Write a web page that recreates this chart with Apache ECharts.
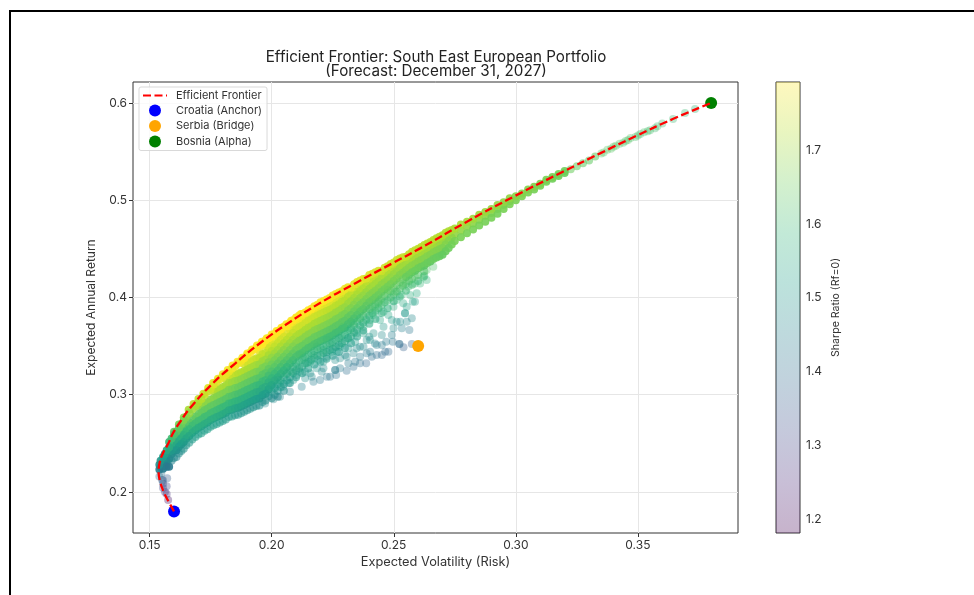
<!DOCTYPE html>
<html><head><meta charset="utf-8">
<style>
html,body{margin:0;padding:0;background:#fff;overflow:hidden}
#chart{position:absolute;left:0;top:0;width:974px;height:595px;filter:blur(0.45px)}
#frame{position:absolute;left:9px;top:10px;width:965px;height:585px;border-left:2px solid #000;border-top:2px solid #000;box-sizing:border-box;pointer-events:none}
</style>
<script src="https://cdn.jsdelivr.net/npm/echarts@6/dist/echarts.min.js"></script>
</head><body><div id="chart"></div><div id="frame"></div>
<script>
const titleText = 'Efficient Frontier: South East European Portfolio\n(Forecast: December 31, 2027)';
const xTicks = [0.15,0.20,0.25,0.30,0.35];
const yTicks = [0.2,0.3,0.4,0.5,0.6];
const colorTicks = [1.2,1.3,1.4,1.5,1.6,1.7];
const viridis = ['#440154','#482878','#3e4a89','#31688e','#26828e','#1f9e89','#35b779','#6ece58','#b5de2b','#fde725'];
const frontierVol = [.160,.1578,.1558,.1544,.1537,.1541,.1555,.1577,.1596,.1625,.1666,.176,.185,.1953,.207,.2198,.2345,.2497,.2608,.28,.2997,.3193,.3345,.3496,.3643,.38];
const frontierRet = [.180,.190,.200,.210,.220,.230,.240,.250,.2606,.272,.2864,.312,.332,.3532,.374,.3943,.415,.4355,.4505,.478,.5045,.5293,.5482,.5665,.5835,.600];
const croatia = [0.16,0.18], serbia = [0.26,0.35], bosnia = [0.38,0.60];
const ridgeVols = [.158,.16,.162,.164,.166,.168,.17,.172,.174,.176,.178,.18,.182,.184,.186,.188,.19,.192,.194,.196,.198,.20,.202,.204,.206,.208,.21,.212];
const ridgeRets = [.2515,.262,.2695,.2765,.2845,.2905,.2955,.301,.307,.312,.3165,.321,.3255,.33,.334,.338,.3425,.3465,.3505,.3545,.358,.362,.3655,.369,.3725,.376,.3795,.383];
const coreVols = [.154,.1545,.1555,.1562,.157,.158,.159,.161,.163,.165,.1675,.17,.1725,.175,.1775,.18,.1825,.185,.1875,.19,.1925,.195,.1975,.20,.2025,.205,.2075,.21,.2125,.215,.2175,.22,.2225,.225,.2275,.23,.2325,.235,.2375,.24,.2425,.245,.2475,.25,.2525,.255,.2575,.26,.2625,.265,.2675,.27,.2725,.275,.2775,.28,.2825,.285,.2875,.29,.2925,.295,.2975,.30,.3025,.305,.3075,.31,.3125,.315,.3175,.32,
.16,.162,.164,.16625,.16875,.17125,.17375,.17625,.17875,.18125,.18375,.18625,.18875,.19125,.19375,.19625,.19875,.20125,.20375,.20625,.20875,.21125,.21375,.21625,.21875,.22125,.22375,.22625,.22875,.23125,.23375,.23625,.23875,.24125,.24375,.24625,.24875,.25125,.25375,.25625,.25875,.26125,.26375,.26625,.26875,.27125,.27375];
const coreReturns = [
[.223,.228],[.226,.232],[.224,.230,.236],[.227,.233,.239],[.226,.232,.238,.243],[.226,.234,.24,.246],[.232,.239,.246,.253,.255],
[.236,.243,.250,.257,.262],[.242,.249,.256,.263,.27],[.248,.255,.262,.269,.277],[.254,.261,.268,.275,.285],
[.259,.266,.273,.280,.287,.292],[.263,.27,.277,.284,.291,.3],[.267,.274,.281,.288,.295,.306],[.27,.277,.284,.291,.298,.305,.313],
[.273,.28,.287,.294,.301,.308,.319],[.277,.284,.291,.298,.305,.312,.319,.324],[.279,.286,.293,.3,.307,.314,.321,.329],[.281,.288,.295,.302,.309,.316,.323,.335],
[.284,.291,.298,.305,.312,.319,.326,.333,.341],[.287,.294,.301,.308,.315,.322,.329,.336,.346],[.289,.296,.303,.31,.317,.324,.331,.338,.345,.351],[.294,.301,.308,.315,.322,.329,.336,.343,.35,.356],
[.303,.31,.317,.324,.331,.338,.345,.352,.36],[.311,.318,.325,.332,.339,.346,.353,.36,.365],[.318,.325,.332,.339,.346,.353,.36,.37],[.325,.332,.339,.346,.353,.36,.367,.374],
[.332,.339,.346,.353,.36,.367,.374,.379],[.336,.343,.35,.357,.364,.371,.378,.383],[.341,.348,.355,.362,.369,.376,.383,.387],[.345,.352,.359,.366,.373,.38,.387,.391],
[.348,.355,.362,.369,.376,.383,.39,.395],[.351,.358,.365,.372,.379,.386,.393,.398],[.354,.361,.368,.375,.382,.389,.396,.402],[.358,.365,.372,.379,.386,.393,.4,.405],
[.362,.369,.376,.383,.39,.397,.404,.409],[.368,.375,.382,.389,.396,.403,.41],[.375,.382,.389,.396,.403,.41,.416],[.381,.388,.395,.402,.409,.416,.419],
[.388,.395,.402,.409,.416,.423],[.393,.4,.407,.414,.421,.426],[.399,.406,.413,.42,.427],[.404,.411,.418,.425,.432],
[.41,.417,.424,.431,.436],[.416,.423,.43,.437,.44],[.421,.428,.435,.442],[.426,.433,.44,.447],
[.43,.437,.444,.45],[.433,.44,.447,.454],[.437,.444,.451,.457],[.441,.448,.455,.461],
[.444,.451,.458,.464],[.451,.458,.465,.468],[.458,.465,.471],[.462,.469,.475],
[.466,.473,.478],[.47,.476,.481],[.474,.48,.485],[.478,.484,.488],
[.482,.487,.491],[.486,.491,.495],[.491,.495,.498],[.496,.499,.502],
[.5,.504],[.504,.507],[.508,.511],[.511,.514],[.515,.517],[.519,.521],[.522,.524],[.525,.527],[.528,.53],
[.235,.2425,.2495,.2565,.259],[.2395,.2465,.2535,.2605,.266],[.2445,.2515,.2585,.2655,.274],[.2505,.2575,.2645,.2715,.281],
[.2565,.2635,.2705,.2775,.289],[.2605,.2675,.2745,.2815,.2885,.2955],[.2645,.2715,.2785,.2855,.2925,.303],[.2685,.2755,.2825,.2895,.2965,.3035,.3105],
[.2715,.2785,.2855,.2925,.2995,.3065,.316],[.2745,.2815,.2885,.2955,.3025,.3095,.3165,.321],[.2775,.2845,.2915,.2985,.3055,.3125,.3195,.327],[.2795,.2865,.2935,.3005,.3075,.3145,.3215,.332],
[.2825,.2895,.2965,.3035,.3105,.3175,.3245,.3315,.3375],[.2855,.2925,.2995,.3065,.3135,.3205,.3275,.3345,.3435],[.2885,.2955,.3025,.3095,.3165,.3235,.3305,.3375,.3485],[.2925,.2995,.3065,.3135,.3205,.3275,.3345,.3415,.3525],
[.2985,.3055,.3125,.3195,.3265,.3335,.3405,.3475,.3545,.358],[.3075,.3145,.3215,.3285,.3355,.3425,.3495,.3565,.3625],[.3145,.3215,.3285,.3355,.3425,.3495,.3565,.3635,.367],[.3215,.3285,.3355,.3425,.3495,.3565,.3635,.3705],
[.3285,.3355,.3425,.3495,.3565,.3635,.3705,.3765],[.3345,.3415,.3485,.3555,.3625,.3695,.3765,.3815],[.3385,.3455,.3525,.3595,.3665,.3735,.3805,.3845],[.3425,.3495,.3565,.3635,.3705,.3775,.3845,.3885],
[.3465,.3535,.3605,.3675,.3745,.3815,.3885,.3925],[.3495,.3565,.3635,.3705,.3775,.3845,.3915,.3965],[.3525,.3595,.3665,.3735,.3805,.3875,.3945,.3995],[.3565,.3635,.3705,.3775,.3845,.3915,.3985,.4035],
[.3605,.3675,.3745,.3815,.3885,.3955,.4025,.4065],[.3655,.3725,.3795,.3865,.3935,.4005,.4075,.4105],[.3715,.3785,.3855,.3925,.3995,.4065,.4135],[.3785,.3855,.3925,.3995,.4065,.4135,.4175],
[.3845,.3915,.3985,.4055,.4125,.4195],[.3905,.3975,.4045,.4115,.4185,.4245],[.3955,.4025,.4095,.4165,.4235,.4275],[.4015,.4085,.4155,.4225,.4305],
[.4065,.4135,.4205,.4275,.4345],[.4125,.4195,.4265,.4335,.4385],[.4185,.4255,.4325,.4395,.4415],[.4235,.4305,.4375,.4445],
[.4275,.4345,.4415,.4485],[.4315,.4385,.4455,.452],[.4355,.4425,.4495,.4555],[.4395,.4465,.4535,.459],
[.4425,.4495,.4565,.4625],[.4475,.4545,.4615,.4665],[.4545,.4615,.4695]];
const midVols = [.3225,.325,.3275,.33,.3325,.2,.2025,.205,.2075,.21,.2125,.215,.2175,.22,.2225,.225,.2275,.23,.2325,.235,.2375,.24,.2425,.245,.2475,.25,.2525,.255,.2575,.26,.2625,.20125,.20375,.20625,.20875,.21125,.21375,.21625,.21875,.22125,.22375,.22625,.22875,.23125,.23375,.23625,.23875,.24125,.24375,.24625,.24875,.25125,.25375,.25625];
const midReturns = [[.532],[.535],[.538],[.541],[.545],[.2965],[.304,.298],[.311,.304],[.318,.312],[.325,.318],[.329,.322],[.334,.327],[.338,.331],[.341,.334],[.344,.337],[.347,.34],[.351,.344],[.355,.348],[.36,.353],[.367,.36],[.374,.366],[.381,.373],[.386,.378],[.392,.384],[.397,.389],[.403,.396],[.409,.401],[.414,.407],[.419,.413],[.423,.417],[.427,.422],[.3],[.308],[.315],[.322],[.327],[.332],[.336],[.34],[.343],[.346],[.349],[.353],[.358],[.364],[.371],[.377],[.384],[.389],[.395],[.4],[.406],[.412],[.417]];
const fringeVols = [.1576,.1563,.1551,.154,.1555,.1555,.1555,.157,.157,.1548,.1572,.2564,.2574,.2540,.2523,.2523,.2496,.2469,.2478,.2451,.2430,.2410,.2403,.2430,.2387,.2362,.2335,.2307,.2264,.2226,.2198,.2164,.2123,.2075,.2034,.2007,.1973,.2362,.2389,.2400,.2335,.2307,.2260,.2260,.2205,.2158,.2137,.2089,.2048,.2014,.2458,.2499,.2533,.2553,.2574,.2546,.2546,.2512,.2478,.2444,.2417,.2376,.2348,.2314,.2280,.2246,.2280,.2226,.2191,.2144,.2103,.2062,.2116,.2185,.2226,.2294,.2335,.2403,.2437,.2478,.2512,.2539,.2578,.2594,.2560,.2621,.2662,.2635,.2587,.335,.336,.3375,.339,.34,.341,.3425,.344,.345,.346,.347,.349,.35,.351,.3525,.354,.355,.357,.358,.36,.3644,.3693,.3734,
.1993,.2028,.2069,.2103,.2137,.2171,.2212,.2239,.2280,.2314,.2342,.2301,.2348,.2376,.2423,.2451,.2465,.2389,.2362,.2260,.2212,.2158,.2082,.2034,.2185,.2116,.2314,.2267,.2417,.2451,.2492,.2526,.2492,.2458,.2423,.2499,.2533,.2505,.2444,.2403,.2362,.2321,.2376,.2567,.2587,.2553,.2608,.2635,.2587,.2539,.2280,.2246,.2212,.2171,.2130,.2403,.2342];
const fringeReturns = [.1918,.2,.2123,.216,.204,.2085,.212,.198,.206,.2195,.214,.3666,.3522,.3487,.3522,.3522,.3546,.3546,.3443,.3408,.3408,.3391,.3443,.3511,.3323,.3323,.3288,.3247,.3203,.3186,.3151,.3186,.3083,.3031,.298,.2953,.2911,.3494,.3563,.3597,.3426,.3391,.3254,.3254,.3237,.322,.3169,.3151,.3083,.3066,.37,.3683,.3683,.3751,.3786,.3837,.3837,.3751,.382,.3768,.382,.37,.3631,.358,.3494,.3443,.3374,.3391,.3357,.3323,.3288,.322,.3408,.3494,.3563,.37,.3734,.3768,.394,.4077,.3974,.394,.3957,.4043,.4111,.4207,.4317,.4283,.4145,.548,.549,.552,.553,.555,.556,.558,.559,.561,.562,.564,.565,.5665,.568,.57,.571,.572,.574,.576,.579,.5835,.5897,.5938,
.3083,.3151,.3117,.3203,.3237,.3134,.3271,.3186,.3271,.3323,.334,.3408,.3477,.3494,.3528,.3511,.3443,.3426,.3391,.3357,.334,.334,.3237,.3117,.3271,.3237,.3477,.3443,.3631,.3614,.3614,.3751,.3768,.3854,.3905,.3905,.4025,.406,.3974,.3888,.3786,.3666,.3631,.4025,.3957,.3905,.4145,.418,.4214,.4145,.358,.3528,.346,.3408,.3374,.3563,.3546];

const colorMin = 1.182, colorMax = 1.792;
// Colour dimension is the Sharpe ratio at Rf=0, as the colour bar is titled.
const withSharpe = (v,r) => [v,r,Math.min(colorMax,Math.max(colorMin,r/v))];
// Each core column is ascending: its lowest portfolio is the soft lower rim, its highest the bright ridge under the frontier.
const corePts = [], ridgePts = ridgeVols.map((v,i)=>withSharpe(v,ridgeRets[i])), midPts = [];
coreVols.forEach((v,i)=>coreReturns[i].forEach((r,j,col)=>{
  (j===col.length-1 ? ridgePts : (j===0 && col.length>4) ? midPts : corePts).push(withSharpe(v,r));
}));
corePts.sort((a,b)=>b[2]-a[2]);
midVols.forEach((v,i)=>midReturns[i].forEach(r=>midPts.push(withSharpe(v,r))));
const fringePts = fringeVols.map((v,i)=>withSharpe(v,fringeReturns[i]));

const font = 'Inter', txt = '#333333';
const chart = echarts.init(document.getElementById('chart'),null,{renderer:'canvas'});
chart.setOption({
  animation:false, backgroundColor:'#fff',
  textStyle:{fontFamily:font,color:txt},
  title:{text:titleText,left:431,top:45,textAlign:'center',textStyle:{fontFamily:font,fontSize:15.2,fontWeight:'normal',color:'#222',lineHeight:14}},
  legend:{left:139,top:87,orient:'vertical',padding:[3,5,3,3],itemGap:3.5,itemWidth:24,itemHeight:12,
    data:[{name:'Efficient Frontier',itemStyle:{color:'rgba(0,0,0,0)',opacity:0}},{name:'Croatia (Anchor)',icon:'circle'},{name:'Serbia (Bridge)',icon:'circle'},{name:'Bosnia (Alpha)',icon:'circle'}],
    backgroundColor:'rgba(255,255,255,0.8)',borderColor:'#d9d9d9',borderWidth:1,borderRadius:2,
    textStyle:{fontFamily:font,fontSize:11,color:txt,padding:[0,0,0,4]}},
  grid:[{left:133,top:82,width:605,height:451,show:true,borderColor:'#333',borderWidth:1,backgroundColor:'#fff'},
        {left:776,top:82,width:24,height:451,show:true,borderColor:'#333',borderWidth:1}],
  xAxis:[{type:'value',gridIndex:0,min:.1432,max:.391,name:'Expected Volatility (Risk)',nameLocation:'middle',nameGap:22,nameTextStyle:{fontSize:12.8,color:txt},
      axisLine:{show:false},axisTick:{length:4,customValues:xTicks,lineStyle:{color:'#333'}},
      axisLabel:{customValues:xTicks,formatter:v=>v.toFixed(2),fontSize:12,color:txt,margin:6},
      splitLine:{show:true,lineStyle:{color:'#e6e6e6',width:1}}},
    {type:'category',gridIndex:1,data:['c'],show:false,boundaryGap:true}],
  yAxis:[{type:'value',gridIndex:0,min:.1578,max:.6216,name:'Expected Annual Return',nameLocation:'middle',nameGap:32,nameTextStyle:{fontSize:12,color:txt},
      axisLine:{show:false},axisTick:{length:4,customValues:yTicks,lineStyle:{color:'#333'}},
      axisLabel:{customValues:yTicks,formatter:v=>v.toFixed(1),fontSize:12,color:txt,margin:6},
      splitLine:{show:true,lineStyle:{color:'#e6e6e6',width:1}}},
    {type:'value',gridIndex:1,position:'right',min:colorMin,max:colorMax,name:'Sharpe Ratio (Rf=0)',nameLocation:'middle',nameGap:30,nameRotate:90,nameTextStyle:{fontSize:10.6,color:txt},
      axisLine:{show:false},axisTick:{length:4,customValues:colorTicks,lineStyle:{color:'#333'}},
      axisLabel:{customValues:colorTicks,formatter:v=>v.toFixed(1),fontSize:12,color:txt,margin:6},splitLine:{show:false}}],
  visualMap:{show:false,type:'continuous',min:colorMin,max:colorMax,dimension:2,seriesIndex:[0,1,2,3],inRange:{color:viridis}},
  series:[
    {name:'Portfolios',type:'scatter',xAxisIndex:0,yAxisIndex:0,data:corePts,symbolSize:8,itemStyle:{opacity:.9},z:2,silent:true},
    {name:'Portfolios (ridge)',type:'scatter',xAxisIndex:0,yAxisIndex:0,data:ridgePts,symbolSize:8,itemStyle:{opacity:.9},z:2,silent:true},
    {name:'Portfolios (mid)',type:'scatter',xAxisIndex:0,yAxisIndex:0,data:midPts,symbolSize:8,itemStyle:{opacity:.55},z:2,silent:true},
    {name:'Portfolios (sparse)',type:'scatter',xAxisIndex:0,yAxisIndex:0,data:fringePts,symbolSize:8,itemStyle:{opacity:.35},z:2,silent:true},
    {name:'Croatia (Anchor)',type:'scatter',data:[croatia],symbolSize:12,itemStyle:{color:'#0000ff',opacity:1},z:3},
    {name:'Serbia (Bridge)',type:'scatter',data:[serbia],symbolSize:12,itemStyle:{color:'#ffa500',opacity:1},z:3},
    {name:'Bosnia (Alpha)',type:'scatter',data:[bosnia],symbolSize:12,itemStyle:{color:'#008000',opacity:1},z:3},
    {name:'Efficient Frontier',type:'line',data:frontierVol.map((v,i)=>[v,frontierRet[i]]),smooth:true,symbol:'none',showSymbol:false,lineStyle:{color:'#ff0000',width:2.3,type:[8,3.5]},itemStyle:{color:'#ff0000'},z:4},
    {type:'bar',xAxisIndex:1,yAxisIndex:1,data:[colorMax],barWidth:'100%',silent:true,
     itemStyle:{opacity:.3,color:{type:'linear',x:0,y:1,x2:0,y2:0,colorStops:viridis.map((c,i)=>({offset:i/(viridis.length-1),color:c}))}}}
  ]
});
</script></body></html>
